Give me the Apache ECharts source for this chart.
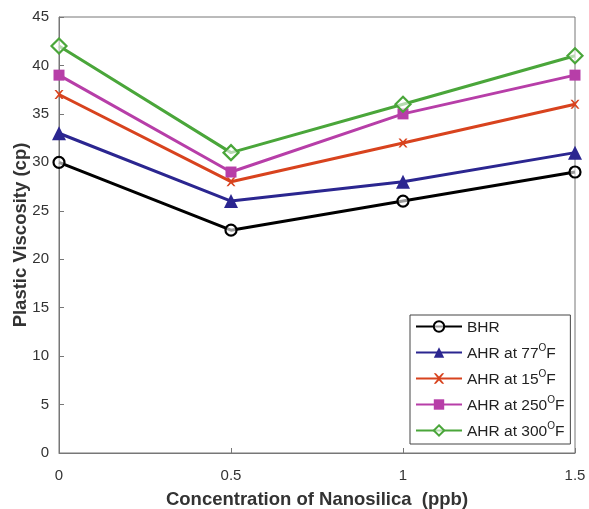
<!DOCTYPE html>
<html>
<head>
<meta charset="utf-8">
<script src="https://cdn.jsdelivr.net/npm/echarts@6/dist/echarts.min.js"></script>
<style>
html,body{margin:0;padding:0;background:#fff;}
#main{width:589px;height:509px;}
</style>
</head>
<body>
<div id="main"></div>
<script>
// concentration values (ppb)
var conc = [0, 0.5, 1, 1.5];
var bhr = [30, 23, 26, 29];
var ahr77 = [33, 26, 28, 31];
var ahr15 = [37, 28, 32, 36];
var ahr250 = [39, 29, 35, 39];
var ahr300 = [42, 31, 36, 41];
var names = ['BHR', 'AHR at 77°F', 'AHR at 15°F', 'AHR at 250°F', 'AHR at 300°F'];

function pairs(ys) {
	var out = [];
	for (var i = 0; i < conc.length; i++) out.push([conc[i], ys[i]]);
	return out;
}

var xMark = 'path://M0,0 L2,0 L5,3 L8,0 L10,0 L6,5 L10,10 L8,10 L5,7 L2,10 L0,10 L4,5 Z';

function line(name, ys, color, symbol, size, hollow) {
	return {
		name: name,
		type: 'line',
		data: pairs(ys),
		symbol: symbol,
		symbolSize: size,
		lineStyle: {color: color, width: 3},
		itemStyle: {color: hollow ? 'rgba(255,255,255,0.6)' : color, borderColor: color, borderWidth: hollow ? 2.2 : 0},
		emphasis: {disabled: true}
	};
}

var myChart = echarts.init(document.getElementById('main'));
myChart.setOption({
	animation: false,
	grid: {left: 59, right: 14, top: 17, bottom: 56, outerBoundsMode: 'none', show: true, borderColor: '#777', borderWidth: 1},
	legend: {
		orient: 'vertical',
		left: 410,
		top: 315,
		itemWidth: 46,
		itemHeight: 13,
		itemGap: 7,
		padding: [5, 6, 4, 5],
		borderColor: '#444',
		borderWidth: 1,
		backgroundColor: '#fff',
		data: names,
		formatter: function(n) {
			if (n.indexOf('°F') < 0) return '{t|' + n + '}';
			return '{t|' + n.replace('°F', '') + '}{s|O}{t|F}';
		},
		textStyle: {
			rich: {
				t: {fontFamily: 'Liberation Sans', fontSize: 15.5, color: '#222', verticalAlign: 'bottom', padding: [3, 0, 0, 0]},
				s: {fontFamily: 'Liberation Sans', fontSize: 10, color: '#222', verticalAlign: 'top', padding: [0, 0, 6, 0]}
			}
		}
	},
	xAxis: {
		type: 'value',
		min: 0, max: 1.5, interval: 0.5,
		name: 'Concentration of Nanosilica  (ppb)',
		nameLocation: 'middle',
		nameGap: 37,
		nameMoveOverlap: false,
		nameTextStyle: {fontFamily: 'Liberation Sans', fontSize: 18.5, fontWeight: 'bold', color: '#333'},
		axisLine: {show: true, lineStyle: {color: '#777'}},
		axisTick: {inside: true, length: 5, lineStyle: {color: '#777'}},
		axisLabel: {fontFamily: 'Liberation Sans', fontSize: 15, color: '#333', margin: 15},
		splitLine: {show: false}
	},
	yAxis: {
		type: 'value',
		min: 0, max: 45, interval: 5,
		name: 'Plastic Viscosity (cp)',
		nameLocation: 'middle',
		nameGap: 29,
		nameMoveOverlap: false,
		nameTextStyle: {fontFamily: 'Liberation Sans', fontSize: 18.5, fontWeight: 'bold', color: '#333'},
		axisLine: {show: true, lineStyle: {color: '#777'}},
		axisTick: {inside: true, length: 5, lineStyle: {color: '#777'}},
		axisLabel: {fontFamily: 'Liberation Sans', fontSize: 15, color: '#333', margin: 10},
		splitLine: {show: false}
	},
	series: [
		line(names[0], bhr, '#000000', 'circle', 11, true),
		line(names[1], ahr77, '#2b2690', 'triangle', 14, false),
		line(names[2], ahr15, '#d8431e', xMark, 9, false),
		line(names[3], ahr250, '#b73ea8', 'rect', 11, false),
		line(names[4], ahr300, '#4aa63a', 'diamond', 15, true)
	]
});
</script>
</body>
</html>
